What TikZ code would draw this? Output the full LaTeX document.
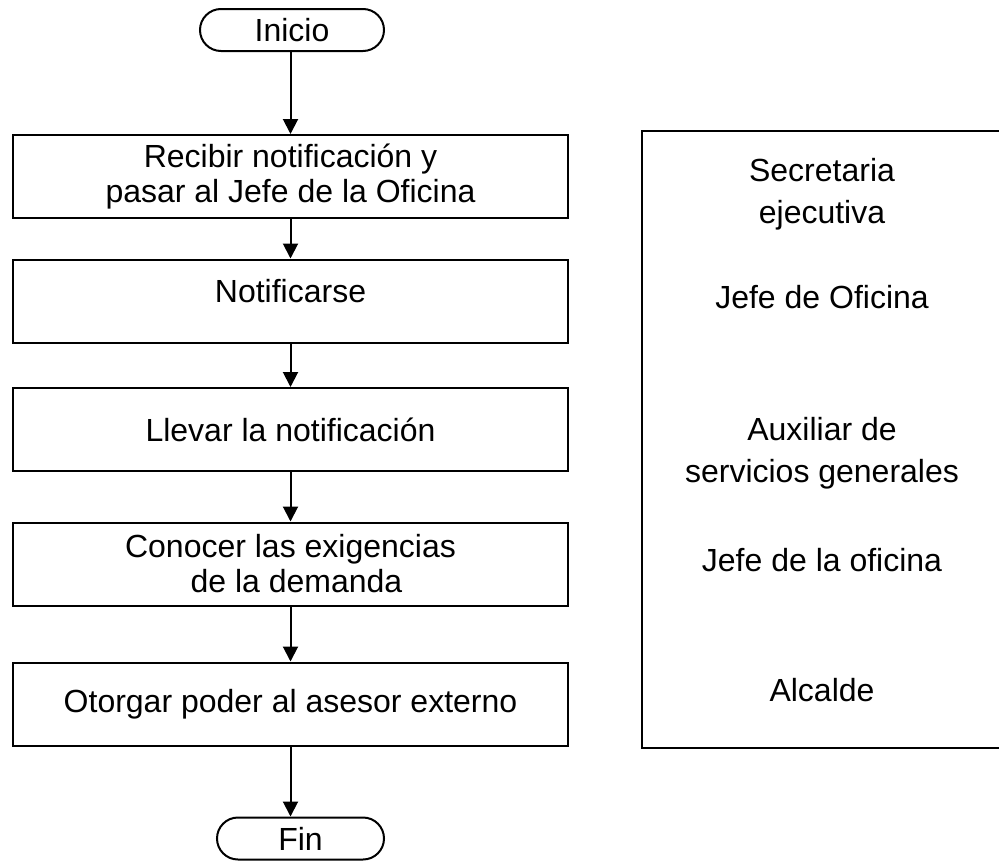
\documentclass[tikz,border=0pt]{standalone}
\usepackage{fontspec}
\setmainfont{Liberation Sans}
\usepackage{tikz}
\usetikzlibrary{arrows.meta}
\usetikzlibrary{shapes.misc}

\tikzset{
  paso/.style={draw, line width=2pt, minimum width=555pt, minimum height=83pt,
               inner sep=0pt, align=center},
  term/.style={draw, line width=2pt, rounded rectangle, minimum height=42pt,
               inner sep=0pt},
  flecha/.style={line width=2pt, -{Triangle[length=15pt,width=15pt]}},
  rol/.style={align=center, font=\fontsize{32}{42}\selectfont}
}

\begin{document}
\begin{tikzpicture}[x=1pt, y=-1pt, font=\fontsize{32}{35}\selectfont]
\clip (0,0) rectangle (999,862);

% inicio / fin
\node[term, minimum width=184pt] (inicio) at (292,30) {Inicio};
\node[term, minimum width=167pt] (fin) at (300.5,838.5) {Fin};

% pasos
\node[paso] (recibir)  at (290.5,176.5) {Recibir notificación y\\pasar al Jefe de la Oficina};
\node[paso, text depth=20pt] (notif) at (290.5,301) {Notificarse};
\node[paso] (llevar)   at (290.5,429.5) {Llevar la notificación};
\node[paso] (conocer)  at (290.5,564)   {Conocer las exigencias\\\hspace*{12pt}de la demanda};
\node[paso] (otorgar)  at (290.5,704)   {Otorgar poder al asesor externo};

\draw[flecha] (inicio.south -| recibir.north) -- (recibir.north);
\draw[flecha] (recibir) -- (notif);
\draw[flecha] (notif) -- (llevar);
\draw[flecha] (llevar) -- (conocer);
\draw[flecha] (conocer) -- (otorgar);
\draw[flecha] (otorgar.south) -- (fin.north -| otorgar.south);

% responsables
\path (642,131) coordinate (resp_nw) (1010,748) coordinate (resp_se);
\draw[line width=2pt] (resp_nw) rectangle (resp_se);
\node[rol] (secre) at (822,194) {Secretaria\\ejecutiva};
\node[rol] (jefe)  at (822,297) {Jefe de Oficina};
\node[rol] (aux)   at (822,453) {Auxiliar de\\servicios generales};
\node[rol] (jefeof) at (822,560) {Jefe de la oficina};
\node[rol] (alcalde) at (822,690) {Alcalde};
%--------end graphics code---------
\end{tikzpicture}
\end{document}
